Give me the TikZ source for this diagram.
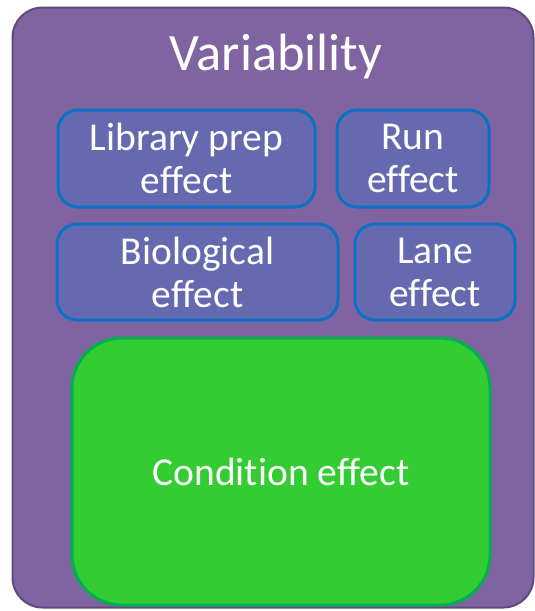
\documentclass[tikz,border=0pt]{standalone}
\usepackage{fontspec}
\setmainfont{Carlito}[Ligatures=NoCommon]
\definecolor{outerfill}{HTML}{8064A2}
\definecolor{outerline}{HTML}{5F4B7B}
\definecolor{innerfill}{HTML}{656AB0}
\definecolor{innerline}{HTML}{0A72C2}
\definecolor{greenfill}{HTML}{33CC33}
\definecolor{greenline}{HTML}{00B050}
\tikzset{
  outerbox/.style={draw=outerline, fill=outerfill, line width=2pt, rounded corners=30pt, inner sep=0pt},
  effbox/.style={draw=innerline, fill=innerfill, line width=3pt, rounded corners=20pt, inner sep=0pt,
    align=center, text=white, font=\fontsize{39.5}{43}\selectfont},
  condbox/.style={draw=greenline, fill=greenfill, line width=3pt, rounded corners=50pt, inner sep=0pt,
    align=center, text=white, font=\fontsize{39.5}{43}\selectfont},
  titletext/.style={text=white, inner sep=0pt, font=\fontsize{52.5}{56}\selectfont}
}
\begin{document}
\begin{tikzpicture}[x=1pt,y=-1pt]
\useasboundingbox (0,0) rectangle (535,611);
\node[outerbox, minimum width=521pt, minimum height=600pt] (outer) at (273,307.5) {};
\node[titletext] (title) at (276,57) {Variability};
\node[effbox, minimum width=257pt, minimum height=97pt] (lib) at (186.5,158.5) {Library prep\\effect};
\node[effbox, minimum width=152pt, minimum height=97pt] (run) at (413,158.5) {Run\\effect};
\node[effbox, minimum width=281pt, minimum height=96pt] (bio) at (197.5,272) {Biological\\effect};
\node[effbox, minimum width=160pt, minimum height=96pt] (lane) at (435,272) {Lane\\effect};
\node[condbox, minimum width=418pt, minimum height=267pt] (cond) at (281,471.5) {Condition effect};
\end{tikzpicture}
\end{document}
